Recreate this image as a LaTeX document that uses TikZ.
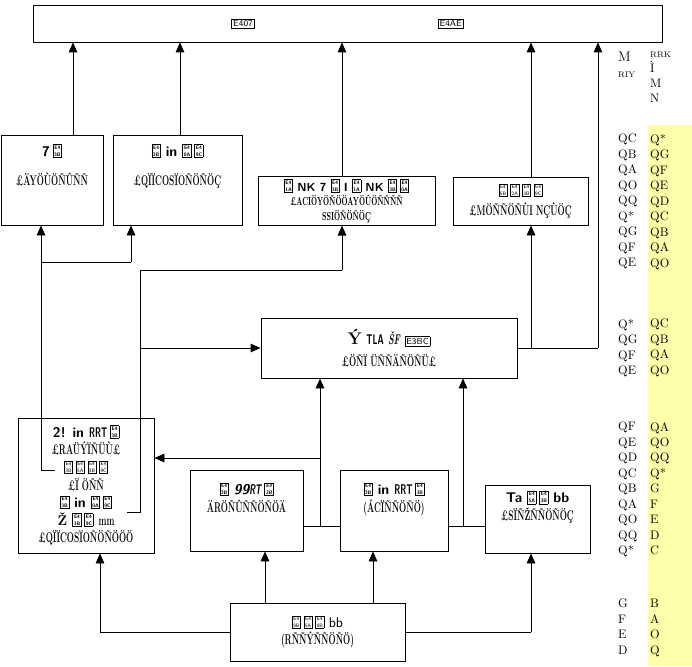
\documentclass[tikz,border=0pt]{standalone}
\usepackage{fontspec}
\usepackage{graphicx}
\usetikzlibrary{positioning, arrows.meta, calc}

\definecolor{bandyellow}{RGB}{255,255,170}

\newcommand{\hexbox}[1]{{\fboxsep=1pt\fboxrule=0.5pt\fbox{\fontsize{7.5}{7.5}\selectfont\sffamily #1}}}
\newcommand{\hexsq}[2]{{\fboxsep=0.6pt\fboxrule=0.5pt\fbox{\fontsize{4.3}{4.6}\selectfont\sffamily\shortstack{#1\\#2}}}}
\newcommand{\gap}{\hspace{2.5pt}}
\newcommand{\cond}[1]{\scalebox{0.6}[1]{#1}}

\begin{document}
\begin{tikzpicture}[
  every node/.style={font=\fontsize{12}{14}\selectfont},
  box/.style={draw, line width=0.8pt, inner sep=2pt, align=center},
  txt/.style={inner sep=1pt, align=center},
  col/.style={inner sep=0pt, align=left, anchor=north west,
    font=\fontsize{10.5}{13.2}\selectfont},
  arr/.style={-{Triangle[length=3mm, width=2.6mm]}, line width=0.8pt},
  ln/.style={line width=0.8pt},
]
\useasboundingbox (0,0) rectangle (20.76,-19.98);

%% right-hand band
\fill[bandyellow] (19.44,-3.75) rectangle (20.76,-19.98);

%% ROW 0 -- bus on top
\node[box, minimum width=18.87cm, minimum height=1.11cm] (bus) at (10.425,-0.705)
  {\hexbox{E407}\hspace{5.5cm}\hexbox{E4AE}};

%% ROW 1 -- output boxes
\node[box, minimum width=3.06cm, minimum height=2.7cm] (outA) at (1.56,-5.4) {};
\node[txt, below=0.25cm of outA.north] (outAtxt)
  {{\sffamily\bfseries 7\gap\hexsq{E4}{3B}}\\[11pt]{\bfseries\cond{£ÄYÖÙÖÑÛÑÑ}}};

\node[box, minimum width=3.87cm, minimum height=2.7cm] (outB) at (5.325,-5.4) {};
\node[txt, below=0.25cm of outB.north] (outBtxt)
  {{\sffamily\bfseries\hexsq{E4}{3B} in \hexsq{E4}{0A}\gap\hexsq{E4}{9C}}\\[11pt]
   {\bfseries\cond{£QÏÏCOSÏOÑÖÑÖÇ}}};

\node[box, minimum width=5.31cm, minimum height=1.44cm,
  font=\fontsize{10}{12.5}\selectfont] (outC) at (10.395,-6.03)
  {{\sffamily\bfseries\hexsq{E4}{1A} NK 7 \hexsq{E4}{3B} I \hexsq{E4}{1A} NK \hexsq{E4}{3B}\gap\hexsq{E4}{0A}}\\
   {\bfseries\cond{£ACIÖYÖÑÖÖAYÖÛÖÑÑÑÑ}}\\
   {\bfseries\cond{SSIÖÑÖÑÖÇ}}};

\node[box, minimum width=4.05cm, minimum height=1.44cm,
  font=\fontsize{12}{17}\selectfont] (outD) at (15.615,-6.03)
  {{\sffamily\hexsq{E4}{5B}\gap\hexsq{E4}{2A}\gap\hexsq{E4}{3B}\gap\hexsq{E4}{9C}}\\
   {\bfseries\cond{£MÖÑÑÖÑÙI NÇÙÖÇ}}};

%% ROW 2 -- core
\node[box, minimum width=7.68cm, minimum height=1.8cm,
  font=\fontsize{12}{19}\selectfont] (core) at (11.67,-10.44)
  {{\Large\bfseries Ý} {\sffamily\bfseries\cond{TLA}} {\itshape\bfseries\cond{ŠF}} \hexbox{E3BC}\\
   {\bfseries\cond{£ÖÑÏ ÜÑÑÄÑÖÑÜ£}}};

%% ROW 3 -- left block and inputs
\node[box, minimum width=4.08cm, minimum height=4.05cm,
  font=\fontsize{12}{15}\selectfont] (left) at (2.58,-14.565)
  {{\sffamily\bfseries 2! in \cond{RRT}\gap\hexsq{E4}{3B}}\\
   {\bfseries\cond{£RAÜÝÏÑÜÙ£}}\\
   \hexsq{E4}{3B}\gap\hexsq{E4}{5A}\gap\hexsq{E4}{3B}\gap\hexsq{E4}{9C}\\
   {\bfseries\cond{£Ï ÖÑÑ}}\\
   {\sffamily\bfseries\hexsq{E4}{3B} in \hexsq{E4}{0A}\gap\hexsq{E4}{9C}}\\
   {\bfseries Ž \hexsq{E4}{3B}\gap\hexsq{E4}{9C} \cond{mm}}\\
   {\bfseries\cond{£QÏÏCOSÏOÑÖÑÖÖÖ}}};
\coordinate (tapA) at (1.65,-14.10);
\coordinate (tapC) at (3.81,-15.36);

\node[box, minimum width=3.39cm, minimum height=2.43cm] (inE) at (7.395,-15.315) {};
\node[txt, below=0.35cm of inE.north, font=\fontsize{12}{15}\selectfont] (inEtxt)
  {{\sffamily\bfseries\hexsq{E4}{3B} \itshape 99\cond{RT}\gap\hexsq{E4}{3B}}\\
   {\bfseries\cond{ÄRÖÑÛÑÑÖÑÖÄ}}};

\node[box, minimum width=3.24cm, minimum height=2.43cm] (inF) at (11.82,-15.315) {};
\node[txt, below=0.35cm of inF.north, font=\fontsize{12}{15}\selectfont] (inFtxt)
  {{\sffamily\bfseries\hexsq{E4}{3B} in \cond{RRT}\gap\hexsq{E4}{3B}}\\
   {\bfseries\cond{(ÁCÏÑÑÖÑÖ)}}};

\node[box, minimum width=3.15cm, minimum height=2.04cm] (inG) at (16.125,-15.57) {};
\node[txt, below=0.15cm of inG.north, font=\fontsize{12}{15}\selectfont] (inGtxt)
  {{\sffamily\bfseries Ta \hexsq{E4}{5A}\gap\hexsq{E4}{3B} bb}\\
   {\bfseries\cond{£SÏÑŽÑÑÖÑÖÇ}}};

%% ROW 4 -- source
\node[box, minimum width=5.25cm, minimum height=1.74cm,
  font=\fontsize{12}{15}\selectfont] (src) at (9.525,-18.96)
  {{\sffamily\hexsq{E4}{8B}\gap\hexsq{E4}{5A}\gap\hexsq{E4}{8B} bb}\\
   {\bfseries\cond{(RÑÑÝÑÑÖÑÖ)}}};

%% arrows into the bus
\draw[arr] (2.19,0 |- outA.north) -- (2.19,0 |- bus.south);
\draw[arr] (5.40,0 |- outB.north) -- (5.40,0 |- bus.south);
\draw[arr] (10.26,0 |- outC.north) -- (10.26,0 |- bus.south);
\draw[arr] (15.93,0 |- outD.north) -- (15.93,0 |- bus.south);

%% core -> outD and bus
\draw[ln] (core.east) -- (17.94,0 |- core.east);
\draw[arr] (17.94,0 |- core.east) -- (17.94,0 |- bus.south);
\draw[arr] (15.93,0 |- core.east) -- (15.93,0 |- outD.south);

%% left block taps
\draw[ln] (tapA) -- (1.23,-14.10) -- (1.23,-7.86) -- (3.93,-7.86);
\draw[arr] (1.23,-7.86) -- (1.23,0 |- outA.south);
\draw[arr] (3.93,-7.86) -- (3.93,0 |- outB.south);
\draw[ln] (tapC) -- (4.20,-15.36) -- (4.20,-8.10) -- (10.26,-8.10);
\draw[arr] (10.26,-8.10) -- (10.26,0 |- outC.south);
\draw[arr] (4.20,0 |- core.west) -- (core.west);

%% inputs -> core, left
\draw[ln] (inE.east |- 0,-15.78) -- (inF.west |- 0,-15.78);
\draw[ln] (inF.east |- 0,-15.78) -- (inG.west |- 0,-15.78);
\draw[arr] (9.60,-15.78) -- (9.60,0 |- core.south);
\draw[arr] (13.89,-15.78) -- (13.89,0 |- core.south);
\draw[arr] (9.60,-13.74) -- (left.east |- 0,-13.74);

%% source fan-out
\draw[arr] (7.95,0 |- src.north) -- (7.95,0 |- inE.south);
\draw[arr] (11.19,0 |- src.north) -- (11.19,0 |- inF.south);
\draw[ln] (src.west) -- (3.00,0 |- src.west);
\draw[arr] (3.00,0 |- src.west) -- (3.00,0 |- left.south);
\draw[ln] (src.east) -- (15.93,0 |- src.east);
\draw[arr] (15.93,0 |- src.east) -- (15.93,0 |- inG.south);

%% side columns
\node[col] (kl1) at (18.54,-1.56) {\fontsize{12}{10}\selectfont M\\{\fontsize{7}{8}\selectfont RIY}};
\node[col, font=\fontsize{10.5}{12.6}\selectfont] (kr1) at (19.50,-1.56)
  {{\fontsize{7}{8}\selectfont RRK}\\Ì\\M\\N};
\node[col] (kl2) at (18.54,-4.02) {QC\\QB\\QA\\QO\\QQ\\Q*\\QG\\QF\\QE};
\node[col] (kr2) at (19.50,-4.02) {Q*\\QG\\QF\\QE\\QD\\QC\\QB\\QA\\QO};
\node[col] (kl3) at (18.54,-9.57) {Q*\\QG\\QF\\QE};
\node[col] (kr3) at (19.50,-9.57) {QC\\QB\\QA\\QO};
\node[col] (kl4) at (18.54,-12.66) {QF\\QE\\QD\\QC\\QB\\QA\\QO\\QQ\\Q*};
\node[col] (kr4) at (19.50,-12.66) {QA\\QO\\QQ\\Q*\\G\\F\\E\\D\\C};
\node[col] (kl5) at (18.54,-17.97) {G\\F\\E\\D};
\node[col] (kr5) at (19.50,-17.97) {B\\A\\O\\Q};

\end{tikzpicture}
\end{document}
